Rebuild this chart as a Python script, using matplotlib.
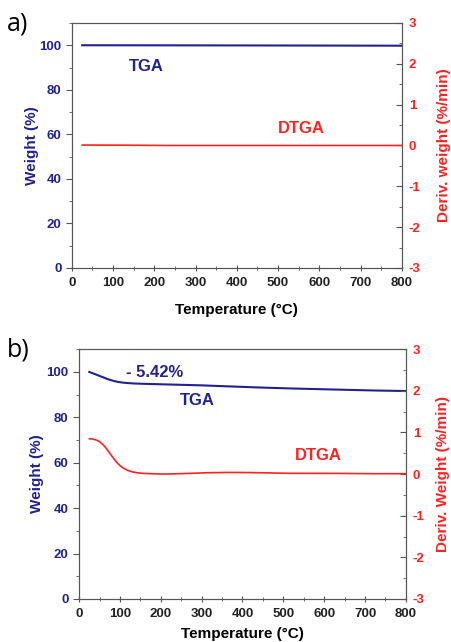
import numpy as np
import matplotlib.pyplot as plt

plt.rcParams['font.family'] = ['Liberation Sans', 'DejaVu Sans']
plt.rcParams['font.weight'] = 'bold'
plt.rcParams['axes.unicode_minus'] = False

navy = '#22228c'
red = '#ff2222'
grey = '#555555'

# panel a
temp_a = [25, 100, 200, 300, 400, 500, 600, 700, 800]
tga_a = [100, 100, 100, 99.95, 99.9, 99.9, 99.85, 99.8, 99.8]
dtga_a = [0.01, 0.01, 0.0, 0.0, 0.0, 0.0, 0.0, 0.0, 0.0]

# panel b
temp_b = [25, 40, 60, 80, 100, 125, 150, 200, 300, 400, 500, 600, 700, 800]
tga_b = [100, 99.0, 97.5, 96.2, 95.4, 95.0, 94.8, 94.6, 94.1, 93.4, 92.8, 92.4, 91.9, 91.6]
temp_bd = [25, 40, 55, 70, 85, 100, 115, 130, 150, 200, 250, 300, 350, 400, 450, 500, 600, 700, 800]
dtga_b = [0.85, 0.84, 0.76, 0.58, 0.36, 0.19, 0.10, 0.05, 0.02, 0.0, 0.01, 0.03, 0.04, 0.04, 0.03, 0.02, 0.02, 0.01, 0.01]


def smooth(x, y):
    xs = np.linspace(x[0], x[-1], 400)
    ys = np.interp(xs, x, y)
    k = 6
    pad = np.pad(ys, k, mode='reflect', reflect_type='odd')
    ys = np.convolve(pad, np.ones(2 * k + 1) / (2 * k + 1), mode='valid')
    return xs, ys


def panel(ax, tx, ty, dx, dy, rlabel, lpad, rpad, xpad):
    ax.plot(*smooth(tx, ty), color=navy, lw=1.5)
    ax.set_xlim(0, 800)
    ax.set_ylim(0, 110)
    ax.set_xticks(range(0, 801, 100))
    ax.set_xticks(range(50, 800, 100), minor=True)
    ax.set_yticks(range(0, 101, 20))
    ax.set_yticks(range(10, 111, 20), minor=True)
    ax.set_xlabel('Temperature (°C)', fontsize=11, fontweight='bold', labelpad=xpad)
    ax.set_ylabel('Weight (%)', fontsize=11, fontweight='bold', color=navy, labelpad=lpad)
    ax.tick_params(axis='y', colors=grey, labelcolor=navy, labelsize=9.5, direction='out', length=4)
    ax.tick_params(axis='y', which='minor', colors=grey, direction='out', length=2)
    ax.tick_params(axis='x', colors=grey, labelcolor='#222222', labelsize=9.5, direction='inout', length=5, pad=4)
    ax.tick_params(axis='x', which='minor', colors=grey, direction='inout', length=3)
    for s in ax.spines.values():
        s.set_color(grey)
    ax2 = ax.twinx()
    ax2.plot(*smooth(dx, dy), color=red, lw=1.2)
    ax2.set_ylim(-3, 3)
    ax2.set_yticks(range(-3, 4))
    ax2.set_yticks(np.arange(-2.5, 3, 1), minor=True)
    ax2.tick_params(axis='y', colors=grey, labelcolor=red, labelsize=9.5, direction='in', length=4, pad=5)
    ax2.tick_params(axis='y', which='minor', colors=grey, direction='in', length=2)
    ax2.set_ylabel(rlabel, fontsize=11, fontweight='bold', color=red, labelpad=rpad)
    for s in ax2.spines.values():
        s.set_color(grey)
    return ax2


fig = plt.figure(figsize=(4.52, 6.42), dpi=100)
ax_a = fig.add_axes([0.159, 0.5826, 0.730, 0.3816])
panel(ax_a, temp_a, tga_a, temp_a, dtga_a, 'Deriv. weight (%/min)', 0, 12, 10)
ax_a.text(180, 90.5, 'TGA', color=navy, fontsize=12, fontweight='bold', ha='center', va='center')
ax_a.text(557, 62.6, 'DTGA', color=red, fontsize=12, fontweight='bold', ha='center', va='center')

ax_b = fig.add_axes([0.175, 0.067, 0.723, 0.389])
panel(ax_b, temp_b, tga_b, temp_bd, dtga_b, 'Deriv. Weight (%/min)', 2, 8, 5)
ax_b.text(186, 99.9, '- 5.42%', color=navy, fontsize=12, fontweight='bold', ha='center', va='center')
ax_b.text(289, 87.6, 'TGA', color=navy, fontsize=12, fontweight='bold', ha='center', va='center')
ax_b.text(585, 63, 'DTGA', color=red, fontsize=12, fontweight='bold', ha='center', va='center')

fig.text(0.015, 0.963, 'a)', fontsize=18, family='Open Sans', fontweight='normal', va='center')
fig.text(0.015, 0.455, 'b)', fontsize=18, family='Open Sans', fontweight='normal', va='center')

fig.savefig('out.png', dpi=100)
